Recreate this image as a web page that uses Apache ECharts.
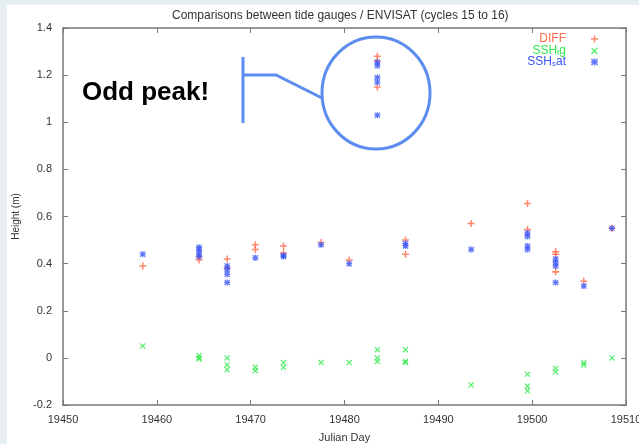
<!DOCTYPE html>
<html>
<head>
<meta charset="utf-8">
<script src="https://cdn.jsdelivr.net/npm/echarts@6/dist/echarts.min.js"></script>
<style>
  html, body { margin: 0; padding: 0; }
  #chart { width: 639px; height: 444px; }
</style>
</head>
<body>
<div id="chart"></div>
<script>
// values: [Julian day, height in m]
const diffPoints = [
  [19458.5, 0.39],
  [19464.5, 0.415], [19464.5, 0.43],
  [19467.5, 0.42], [19467.5, 0.38],
  [19470.5, 0.48], [19470.5, 0.46],
  [19473.5, 0.475], [19473.5, 0.445],
  [19477.5, 0.49],
  [19480.5, 0.415],
  [19483.5, 1.28], [19483.5, 1.26], [19483.5, 1.15],
  [19486.5, 0.5], [19486.5, 0.44],
  [19493.5, 0.57],
  [19499.5, 0.655], [19499.5, 0.545],
  [19502.5, 0.45], [19502.5, 0.44], [19502.5, 0.365],
  [19505.5, 0.325],
  [19508.5, 0.55]
]
const sshTgPoints = [
  [19458.5, 0.05],
  [19464.5, 0.01], [19464.5, 0.0], [19464.5, -0.005],
  [19467.5, 0.0], [19467.5, -0.03], [19467.5, -0.05],
  [19470.5, -0.04], [19470.5, -0.055],
  [19473.5, -0.02], [19473.5, -0.04],
  [19477.5, -0.02],
  [19480.5, -0.02],
  [19483.5, 0.035], [19483.5, 0.0], [19483.5, -0.015],
  [19486.5, 0.035], [19486.5, -0.015], [19486.5, -0.02],
  [19493.5, -0.115],
  [19499.5, -0.07], [19499.5, -0.12], [19499.5, -0.14],
  [19502.5, -0.045], [19502.5, -0.06],
  [19505.5, -0.02], [19505.5, -0.03],
  [19508.5, 0.0]
]
const sshSatPoints = [
  [19458.5, 0.44],
  [19464.5, 0.47], [19464.5, 0.46], [19464.5, 0.445], [19464.5, 0.43],
  [19467.5, 0.39], [19467.5, 0.375], [19467.5, 0.355], [19467.5, 0.32],
  [19470.5, 0.425],
  [19473.5, 0.435], [19473.5, 0.43],
  [19477.5, 0.48],
  [19480.5, 0.40],
  [19483.5, 1.255], [19483.5, 1.24], [19483.5, 1.19], [19483.5, 1.17], [19483.5, 1.03],
  [19486.5, 0.485], [19486.5, 0.475],
  [19493.5, 0.46],
  [19499.5, 0.53], [19499.5, 0.515], [19499.5, 0.475], [19499.5, 0.46],
  [19502.5, 0.42], [19502.5, 0.405], [19502.5, 0.39], [19502.5, 0.32],
  [19505.5, 0.305],
  [19508.5, 0.55]
]

const FONT = 'Liberation Sans, Arial, sans-serif'
const plusPath = 'path://M3.9,0H6.1V10H3.9Z M0,3.9H10V6.1H0Z'
const crossPath = 'path://M0,1.4L1.4,0L10,8.6L8.6,10Z M8.6,0L10,1.4L1.4,10L0,8.6Z'
const starPath = 'path://M3.9,0H6.1V10H3.9Z M0,3.9H10V6.1H0Z M0,1.4L1.4,0L10,8.6L8.6,10Z M8.6,0L10,1.4L1.4,10L0,8.6Z'

const legendItem = (name, color, top) => ({
  data: [name],
  orient: 'vertical',
  align: 'right',
  right: 41,
  top: top,
  padding: 0,
  itemWidth: 7,
  itemHeight: 7,
  selectedMode: false,
  formatter: n => n === 'DIFF' ? 'DIFF{g|}' : (n === 'SSH_tg' ? 'SSH{s|t}g{g|}' : 'SSH{s|s}at{g|}'),
  textStyle: {
    color: color,
    fontSize: 12,
    fontFamily: FONT,
    rich: {
      s: { fontSize: 8, color: color, fontFamily: FONT, verticalAlign: 'bottom', padding: [4, 0, 0, 0] },
      g: { width: 20 }
    }
  }
})

const chart = echarts.init(document.getElementById('chart'))

const option = {
  backgroundColor: '#e6eef2',
  animation: false,
  title: {
    text: 'Comparisons between tide gauges / ENVISAT (cycles 15 to 16)',
    left: 167,
    top: 5,
    textStyle: { fontSize: 12, fontWeight: 'normal', color: '#333', fontFamily: FONT }
  },
  legend: [
    legendItem('DIFF', '#ff6a4a', 33),
    legendItem('SSH_tg', '#2ee84a', 45),
    legendItem('SSH_sat', '#3a55f5', 56)
  ],
  grid: { left: 63, top: 28, right: 13, bottom: 39, outerBoundsMode: 'none', containLabel: false },
  xAxis: [
    {
      type: 'value',
      min: 19450,
      max: 19510,
      interval: 10,
      name: 'Julian Day',
      nameLocation: 'middle',
      nameGap: 27,
      nameTextStyle: { fontSize: 11, color: '#333', fontFamily: FONT },
      axisLine: { show: true, onZero: false, lineStyle: { color: '#777', width: 1.5 } },
      axisTick: { show: true, inside: true, length: 5, lineStyle: { color: '#777' } },
      axisLabel: { fontSize: 11, color: '#333', margin: 9, fontFamily: FONT, formatter: v => String(v) },
      splitLine: { show: false }
    },
    {
      type: 'value',
      position: 'top',
      min: 19450,
      max: 19510,
      interval: 10,
      axisLine: { show: true, onZero: false, lineStyle: { color: '#777', width: 1.5 } },
      axisTick: { show: true, inside: true, length: 5, lineStyle: { color: '#777' } },
      axisLabel: { show: false },
      splitLine: { show: false }
    }
  ],
  yAxis: [
    {
      type: 'value',
      min: -0.2,
      max: 1.4,
      interval: 0.2,
      name: 'Height (m)',
      nameLocation: 'middle',
      nameRotate: 90,
      nameGap: 42,
      nameTextStyle: { fontSize: 10, color: '#333', fontFamily: FONT },
      axisLine: { show: true, onZero: false, lineStyle: { color: '#777', width: 1.5 } },
      axisTick: { show: true, inside: true, length: 5, lineStyle: { color: '#777' } },
      axisLabel: {
        fontSize: 11, color: '#333', margin: 11, fontFamily: FONT,
        formatter: v => String(Math.round(v * 10) / 10)
      },
      splitLine: { show: false }
    },
    {
      type: 'value',
      position: 'right',
      min: -0.2,
      max: 1.4,
      interval: 0.2,
      axisLine: { show: true, onZero: false, lineStyle: { color: '#777', width: 1.5 } },
      axisTick: { show: true, inside: true, length: 5, lineStyle: { color: '#777' } },
      axisLabel: { show: false },
      splitLine: { show: false }
    }
  ],
  series: [
    {
      name: 'DIFF',
      type: 'scatter',
      symbol: plusPath,
      symbolSize: 7,
      itemStyle: { color: '#ff6a4a' },
      data: diffPoints
    },
    {
      name: 'SSH_tg',
      type: 'scatter',
      symbol: crossPath,
      symbolSize: 6,
      itemStyle: { color: '#2ee84a' },
      data: sshTgPoints
    },
    {
      name: 'SSH_sat',
      type: 'scatter',
      symbol: starPath,
      symbolSize: 6,
      itemStyle: { color: '#3a55f5' },
      data: sshSatPoints
    }
  ],
  graphic: [
    { type: 'rect', z: -10, shape: { x: 7, y: 5, width: 632, height: 439 }, style: { fill: '#fff' } },
    { type: 'ellipse', z: 100, shape: { cx: 376, cy: 93, rx: 54, ry: 56 }, style: { fill: 'none', stroke: '#5b8def', lineWidth: 3 } },
    { type: 'polyline', z: 100, shape: { points: [[243, 75], [276, 75], [322, 98]] }, style: { fill: 'none', stroke: '#5b8def', lineWidth: 3 } },
    { type: 'line', z: 100, shape: { x1: 243, y1: 57, x2: 243, y2: 123 }, style: { stroke: '#5b8def', lineWidth: 3 } },
    {
      type: 'text', z: 100, x: 82, y: 93,
      style: { text: 'Odd peak!', fill: '#000', font: 'bold 26px Liberation Sans, Arial, sans-serif', verticalAlign: 'middle' }
    }
  ]
}

chart.setOption(option)
</script>
</body>
</html>
